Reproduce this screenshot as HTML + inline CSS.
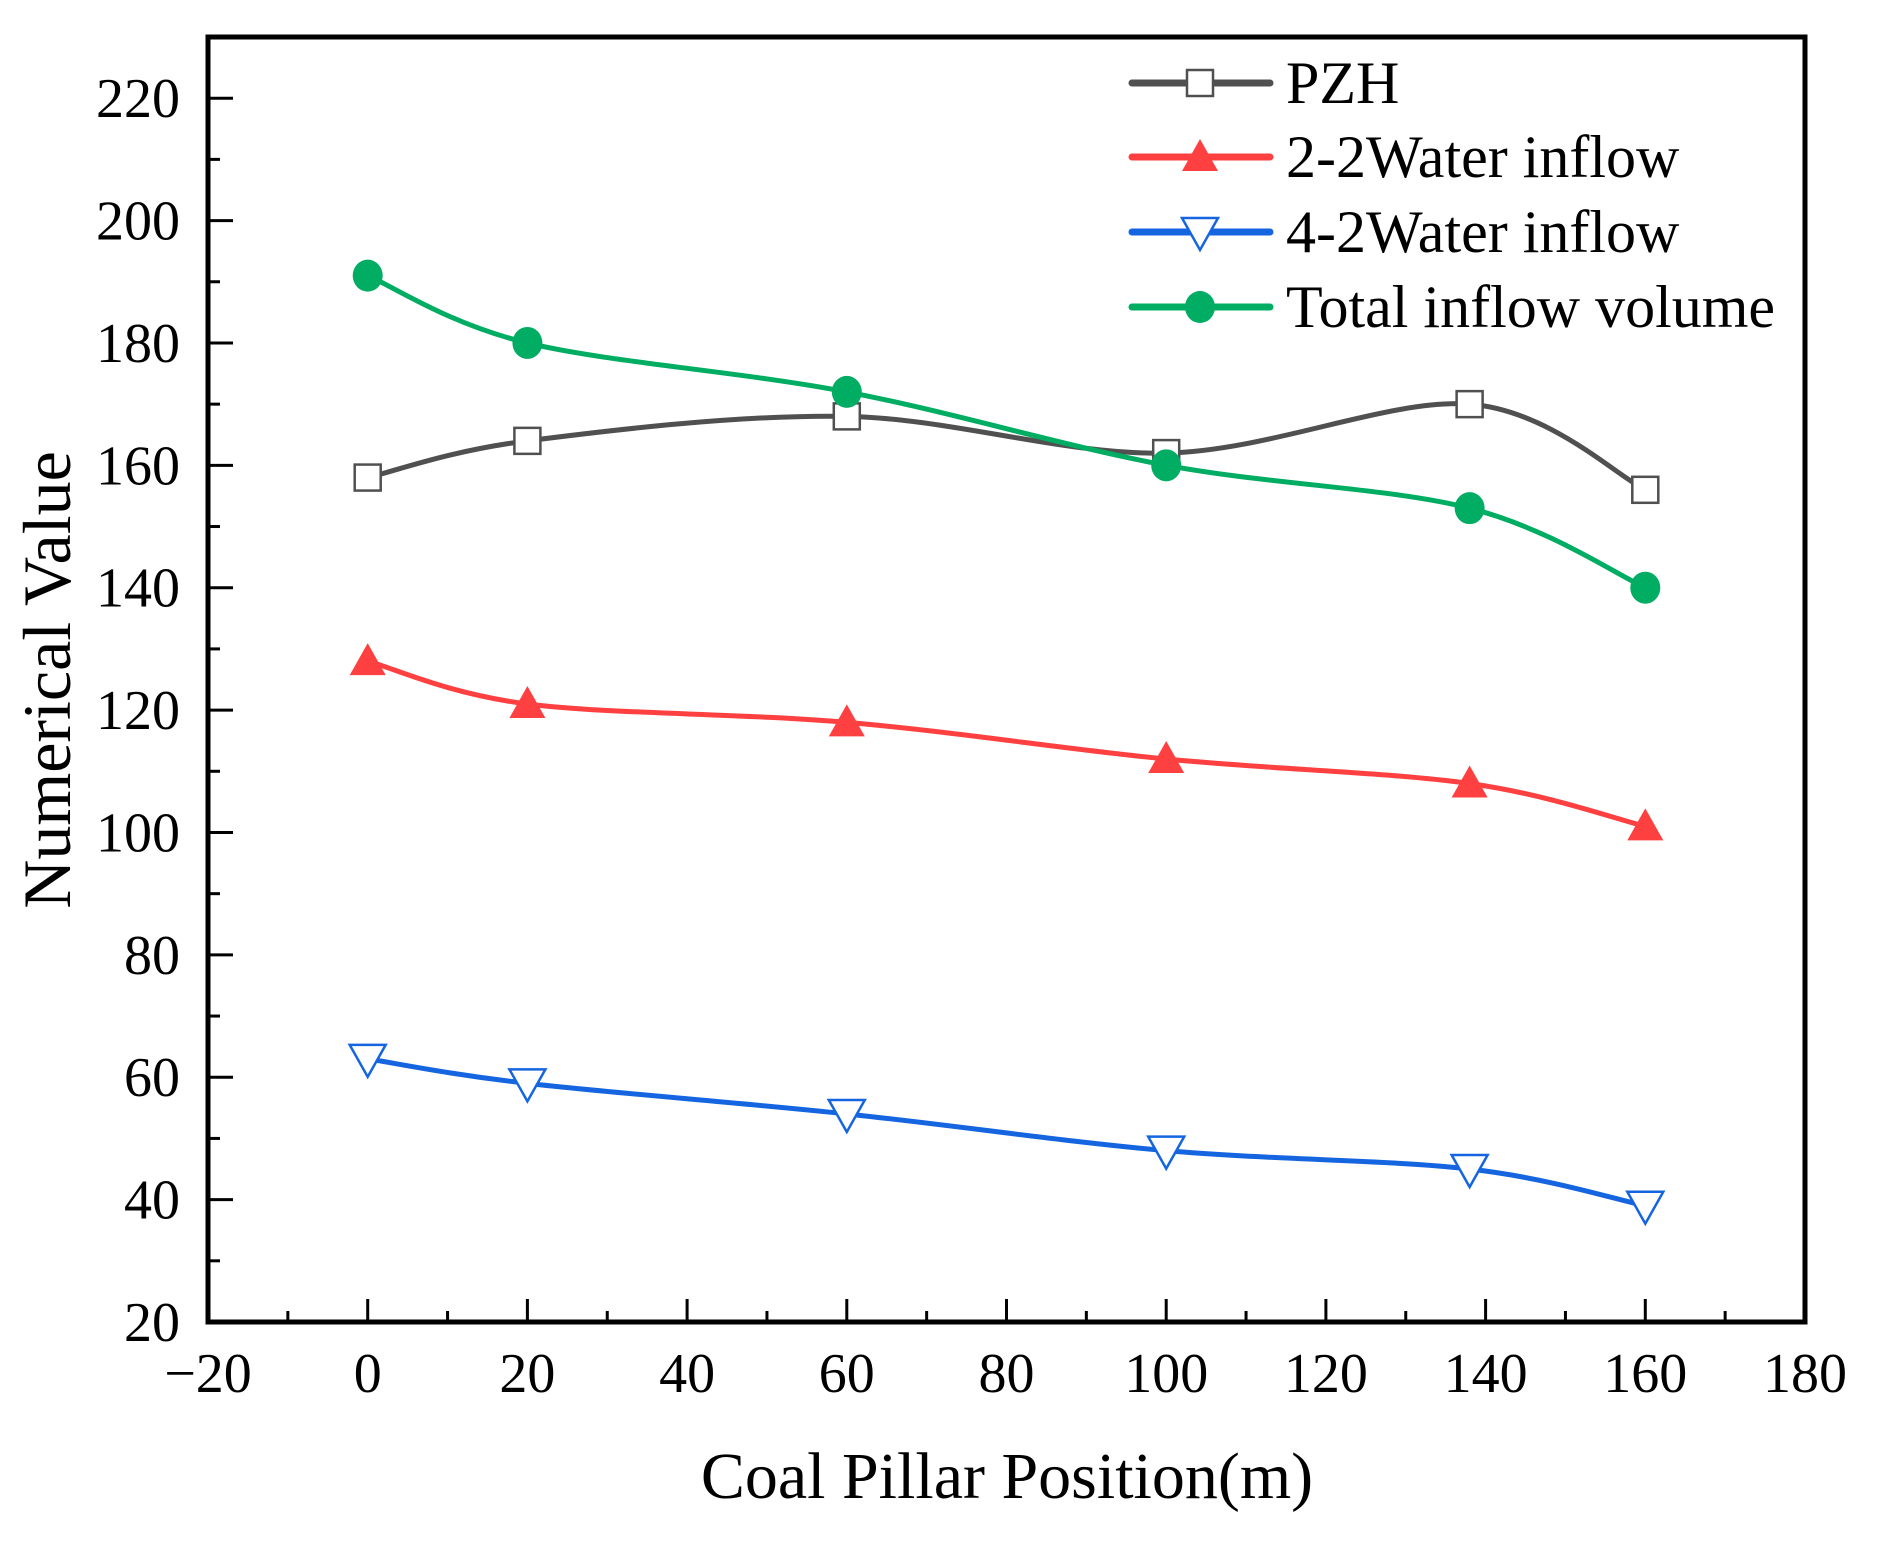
<!DOCTYPE html>
<html><head><meta charset="utf-8"><style>
html,body{margin:0;padding:0;background:#fff;}
svg text{font-family:"Liberation Serif",serif;fill:#000;}
</style></head><body>
<svg id="chart" width="1893" height="1541" viewBox="0 0 1893 1541" xmlns="http://www.w3.org/2000/svg">
<rect width="1893" height="1541" fill="#fff"/>
<g id="series"></g>
<g id="axes"></g>
<g id="legend"></g>
<text x="1007" y="1498" font-size="66" text-anchor="middle">Coal Pillar Position(m)</text>
<text transform="translate(70,680) rotate(-90)" font-size="68" text-anchor="middle">Numerical Value</text>
</svg>
<script>
const xPositions = [0, 20, 60, 100, 138, 160];
const pzh = [158, 164, 168, 162, 170, 156];
const water22 = [128, 121, 118, 112, 108, 101];
const water42 = [63, 59, 54, 48, 45, 39];
const total = [191, 180, 172, 160, 153, 140];
const xTicks = [-20, 0, 20, 40, 60, 80, 100, 120, 140, 160, 180];
const yTicks = [20, 40, 60, 80, 100, 120, 140, 160, 180, 200, 220];
const seriesNames = ["PZH", "2-2Water inflow", "4-2Water inflow", "Total inflow volume"];

const L=208, R=1805, T=37, B=1322;
const xMin=-20, xMax=180, yMin=20, yMax=230;
const sx = v => L + (v - xMin) / (xMax - xMin) * (R - L);
const sy = v => B - (v - yMin) / (yMax - yMin) * (B - T);
const NS="http://www.w3.org/2000/svg";
function mk(tag, attrs, parent){const e=document.createElementNS(NS,tag);for(const k in attrs)e.setAttribute(k,attrs[k]);parent.appendChild(e);return e;}

const axes=document.getElementById('axes');
const frame=mk('rect',{x:L,y:T,width:R-L,height:B-T,fill:'none',stroke:'#000','stroke-width':5},axes);


xTicks.forEach((t,i)=>{
  const x=sx(t);
  const tk=mk('line',{x1:x,x2:x,y1:B,y2:B-23,stroke:'#000','stroke-width':3},axes);
  
  
  if(i<xTicks.length-1){
    const xm=sx(t+10);
    const mt=mk('line',{x1:xm,x2:xm,y1:B,y2:B-11,stroke:'#000','stroke-width':3},axes);
    
    
  }
  const lb=mk('text',{x:x,y:1392,'font-size':56,'text-anchor':'middle'},axes);
  lb.textContent = t<0 ? '\u2212'+Math.abs(t) : String(t);
  
  
});
yTicks.forEach((t,i)=>{
  const y=sy(t);
  const tk=mk('line',{x1:L,x2:L+25,y1:y,y2:y,stroke:'#000','stroke-width':3},axes);
  
  
  const ym=sy(t+10);
  const mt=mk('line',{x1:L,x2:L+12,y1:ym,y2:ym,stroke:'#000','stroke-width':3},axes);
  
  
  const lb=mk('text',{x:180,y:y+19,'font-size':56,'text-anchor':'end'},axes);
  lb.textContent=String(t);
  
  
});

function smoothPath(pts){
  let d=`M${pts[0][0]},${pts[0][1]}`;
  for(let i=0;i<pts.length-1;i++){
    const p0=pts[Math.max(0,i-1)],p1=pts[i],p2=pts[i+1],p3=pts[Math.min(pts.length-1,i+2)];
    const c1=[p1[0]+(p2[0]-p0[0])/6,p1[1]+(p2[1]-p0[1])/6];
    const c2=[p2[0]-(p3[0]-p1[0])/6,p2[1]-(p3[1]-p1[1])/6];
    d+=` C${c1[0]},${c1[1]} ${c2[0]},${c2[1]} ${p2[0]},${p2[1]}`;
  }
  return d;
}
function marker(type,cx,cy,color,parent){
  let m;
  if(type==='square') m=mk('rect',{x:cx-13,y:cy-13,width:26,height:26,fill:'#fff',stroke:color,'stroke-width':2.5},parent);
  else if(type==='up') m=mk('polygon',{points:`${cx},${cy-18} ${cx-18},${cy+14} ${cx+18},${cy+14}`,fill:color},parent);
  else if(type==='down') m=mk('polygon',{points:`${cx-18},${cy-14} ${cx+18},${cy-14} ${cx},${cy+18}`,fill:'#fff',stroke:color,'stroke-width':2.5},parent);
  else m=mk('ellipse',{cx:cx,cy:cy,rx:15,ry:16,fill:color},parent);
  return m;
}
const seriesData=[pzh,water22,water42,total];
const colors=['#505050','#ff4040','#1565e0','#00ad63'];
const types=['square','up','down','circle'];
const slugs=['pzh','water-inflow-2-2','water-inflow-4-2','total-inflow'];
const sg=document.getElementById('series');
seriesData.forEach((vals,si)=>{
  const g=mk('g',{},sg);
  
  
  const pts=vals.map((v,i)=>[sx(xPositions[i]),sy(v)]);
  const p=mk('path',{d:smoothPath(pts),fill:'none',stroke:colors[si],'stroke-width':5,'stroke-linecap':'round'},g);
  
  
  pts.forEach(pt=>{
    const m=marker(types[si],pt[0],pt[1],colors[si],g);
    
    
  });
});
const lg=document.getElementById('legend');
const rows=[83,157,232,307];
seriesNames.forEach((n,si)=>{
  const g=mk('g',{},lg);
  
  
  mk('line',{x1:1132,x2:1270,y1:rows[si],y2:rows[si],stroke:colors[si],'stroke-width':7,'stroke-linecap':'round'},g);
  marker(types[si],1200,rows[si],colors[si],g);
  const t=mk('text',{x:1286,y:rows[si]+20,'font-size':60},g);
  t.textContent=n;
});
</script>
</body></html>
